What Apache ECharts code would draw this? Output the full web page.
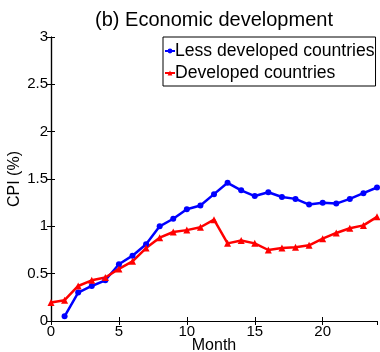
<!DOCTYPE html>
<html>
<head>
<meta charset="utf-8">
<script src="https://cdn.jsdelivr.net/npm/echarts@6/dist/echarts.min.js"></script>
<style>
  html, body { margin: 0; padding: 0; background: #fff; }
  #chart { width: 380px; height: 352px; }
</style>
</head>
<body>
<div id="chart"></div>
<script>
// Monthly CPI (%) by level of economic development
const months = [0, 1, 2, 3, 4, 5, 6, 7, 8, 9, 10, 11, 12, 13, 14, 15, 16, 17, 18, 19, 20, 21, 22, 23, 24];
const lessDeveloped = [null, 0.05, 0.30, 0.37, 0.43, 0.60, 0.69, 0.81, 1.00, 1.08, 1.18, 1.22, 1.34,
  1.46, 1.38, 1.32, 1.36, 1.31, 1.29, 1.23, 1.25, 1.24, 1.29, 1.35, 1.41];
const developed = [0.195, 0.22, 0.37, 0.43, 0.46, 0.55, 0.63, 0.77, 0.88, 0.94, 0.96, 0.99, 1.07,
  0.82, 0.85, 0.82, 0.75, 0.77, 0.78, 0.80, 0.87, 0.93, 0.98, 1.01, 1.10];
const seriesNames = ['Less developed countries', 'Developed countries'];
const titleText = '(b) Economic development';
const xName = 'Month';
const yName = 'CPI (%)';

const font = 'Liberation Sans, Arial, Helvetica, sans-serif';
const pairs = (ys) => months.map((m, i) => [m, ys[i]]).filter(p => p[1] !== null);

const chart = echarts.init(document.getElementById('chart'), null, { renderer: 'canvas' });

const axisLineStyle = { show: true, lineStyle: { color: '#000', width: 1.2 } };
const tickStyle = { show: true, inside: true, length: 4, lineStyle: { color: '#000', width: 1 } };

chart.setOption({
  animation: false,
  backgroundColor: '#fff',
  title: {
    text: titleText,
    left: 209, top: 5, textAlign: 'center',
    textStyle: { fontFamily: font, fontSize: 20, fontWeight: 'normal', color: '#000' }
  },
  grid: { left: 51, top: 37, right: 3, bottom: 31, containLabel: false, outerBoundsMode: 'none' },
  legend: {
    data: seriesNames,
    orient: 'vertical',
    left: 163, top: 37,
    padding: [5, 1, 4, 1],
    itemGap: 4,
    itemWidth: 10, itemHeight: 6,
    borderColor: '#000', borderWidth: 1,
    backgroundColor: '#fff',
    textStyle: { fontFamily: font, fontSize: 17.6, color: '#000', padding: [0, 0, 0, -5] }
  },
  xAxis: [{
    type: 'value', min: 0, max: 24, interval: 5,
    name: xName, nameLocation: 'middle', nameGap: 17, nameMoveOverlap: false,
    nameTextStyle: { fontFamily: font, fontSize: 16, color: '#000' },
    axisLine: axisLineStyle, axisTick: tickStyle,
    axisLabel: { fontFamily: font, fontSize: 15, color: '#000', margin: 3, showMaxLabel: false },
    splitLine: { show: false }
  }, {
    type: 'value', min: 0, max: 24, interval: 5, position: 'top',
    axisLine: axisLineStyle, axisTick: tickStyle,
    axisLabel: { show: false }, splitLine: { show: false }
  }],
  yAxis: [{
    type: 'value', min: 0, max: 3, interval: 0.5,
    name: yName, nameLocation: 'middle', nameGap: 28, nameMoveOverlap: false,
    nameTextStyle: { fontFamily: font, fontSize: 16, color: '#000' },
    axisLine: axisLineStyle, axisTick: tickStyle,
    axisLabel: { fontFamily: font, fontSize: 15, color: '#000', margin: 3 },
    splitLine: { show: false }
  }, {
    type: 'value', min: 0, max: 3, interval: 0.5, position: 'right',
    axisLine: axisLineStyle, axisTick: tickStyle,
    axisLabel: { show: false }, splitLine: { show: false }
  }],
  series: [{
    name: seriesNames[0], type: 'line', data: pairs(lessDeveloped),
    color: '#0000ff', symbol: 'circle', symbolSize: 6, showAllSymbol: true,
    lineStyle: { width: 2.5, color: '#0000ff' }, itemStyle: { color: '#0000ff' }
  }, {
    name: seriesNames[1], type: 'line', data: pairs(developed),
    color: '#ff0000', symbol: 'triangle', symbolSize: 7, showAllSymbol: true,
    lineStyle: { width: 2.5, color: '#ff0000' }, itemStyle: { color: '#ff0000' }
  }]
});
</script>
</body>
</html>
